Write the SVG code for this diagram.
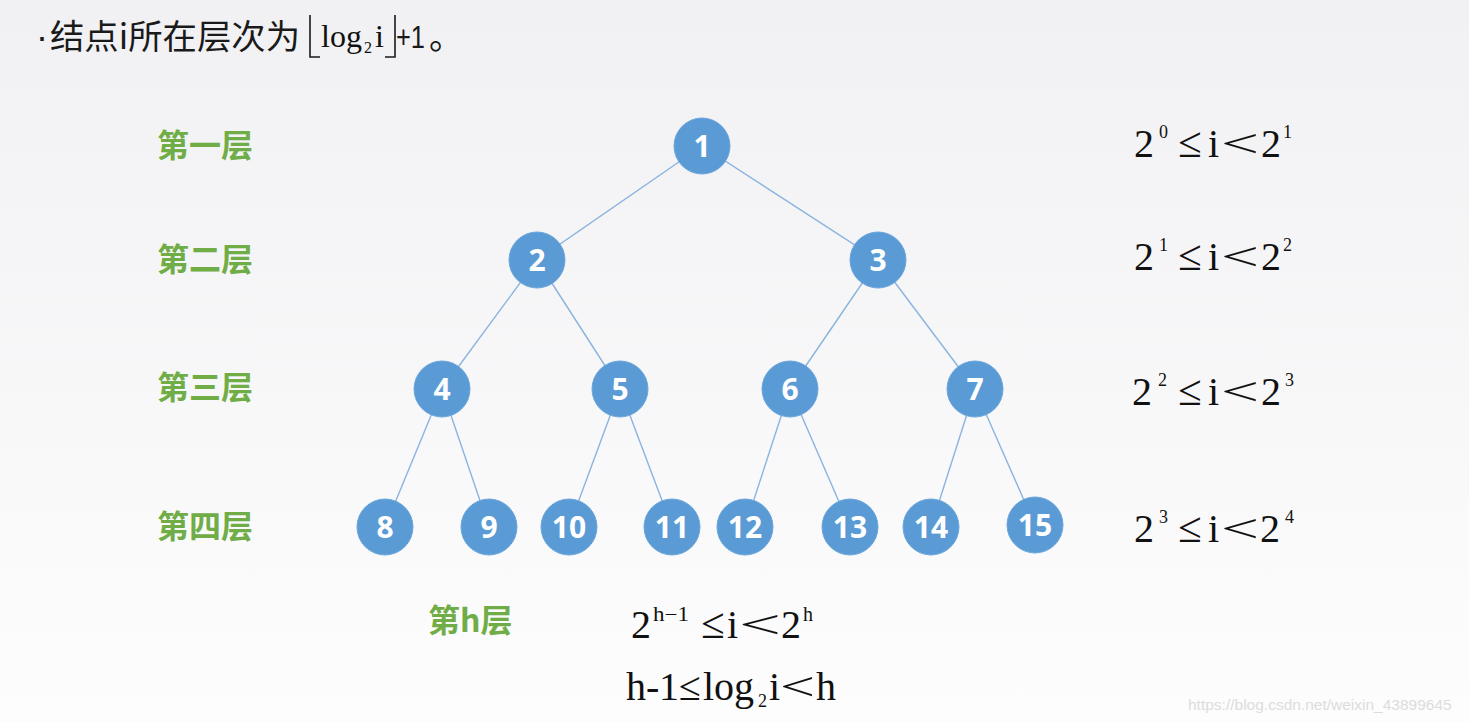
<svg xmlns="http://www.w3.org/2000/svg" width="1469" height="722" viewBox="0 0 1469 722">
<defs>
<linearGradient id="bg" x1="0" y1="0" x2="0" y2="1">
<stop offset="0" stop-color="#f1f1f3"/>
<stop offset="1" stop-color="#fdfdfe"/>
</linearGradient>
<style>
.node circle{fill:#5b9bd5;stroke:#6aa6dc;stroke-width:1}
.node text{fill:#ffffff;font-family:"Open Sans","Noto Sans",sans-serif;font-weight:700;font-size:30px;text-anchor:middle}
.edges line{stroke:#8ab4df;stroke-width:1.4}
.lvl{fill:#70ad47;font-family:"Noto Sans CJK SC",sans-serif;font-weight:700;font-size:32px}
.m{fill:#111;font-family:"Liberation Serif",serif;font-size:40px}
.s{font-size:18px}
.le{font-size:43px}
.t{fill:#1a1a1a;font-family:"Noto Sans CJK SC",sans-serif;font-size:34px}
.br{fill:none;stroke:#1a1a1a;stroke-width:1.6}
</style>
</defs>
<rect x="0" y="0" width="1469" height="722" fill="url(#bg)"/>

<g id="title">
<text x="36" y="49" fill="#1a1a1a" font-family="Liberation Sans, Arial, sans-serif" font-size="36">·</text>
<text class="t" x="50" y="49" textLength="250" lengthAdjust="spacingAndGlyphs">结点i所在层次为</text>
<polyline class="br" points="310,15 310,57 320,57"/>
<text class="m" x="321" y="47" style="font-size:32px">log</text>
<text class="m s" x="364" y="53" style="font-size:16px">2</text>
<text class="m" x="375" y="47" style="font-size:32px">i</text>
<polyline class="br" points="385,57 395,57 395,15"/>
<text x="396" y="48" fill="#1a1a1a" font-family="Liberation Sans, Arial, sans-serif" font-size="32" textLength="29" lengthAdjust="spacingAndGlyphs">+1</text>
<text class="t" x="429" y="49">。</text>
</g>

<g class="edges" id="connectors">
<line x1="702" y1="146" x2="537" y2="260"/>
<line x1="702" y1="146" x2="878" y2="260"/>
<line x1="537" y1="260" x2="442" y2="389"/>
<line x1="537" y1="260" x2="620" y2="389"/>
<line x1="878" y1="260" x2="790" y2="389"/>
<line x1="878" y1="260" x2="975" y2="389"/>
<line x1="442" y1="389" x2="385" y2="527"/>
<line x1="442" y1="389" x2="489" y2="527"/>
<line x1="620" y1="389" x2="569" y2="527"/>
<line x1="620" y1="389" x2="672" y2="527"/>
<line x1="790" y1="389" x2="745" y2="527"/>
<line x1="790" y1="389" x2="850" y2="527"/>
<line x1="975" y1="389" x2="931" y2="527"/>
<line x1="975" y1="389" x2="1035" y2="525"/>
</g>

<g id="n1" class="node"><circle cx="702" cy="146" r="28"/><text x="702" y="157">1</text></g>
<g id="n2" class="node"><circle cx="537" cy="260" r="28"/><text x="537" y="271">2</text></g>
<g id="n3" class="node"><circle cx="878" cy="260" r="28"/><text x="878" y="271">3</text></g>
<g id="n4" class="node"><circle cx="442" cy="389" r="28"/><text x="442" y="400">4</text></g>
<g id="n5" class="node"><circle cx="620" cy="389" r="28"/><text x="620" y="400">5</text></g>
<g id="n6" class="node"><circle cx="790" cy="389" r="28"/><text x="790" y="400">6</text></g>
<g id="n7" class="node"><circle cx="975" cy="389" r="28"/><text x="975" y="400">7</text></g>
<g id="n8" class="node"><circle cx="385" cy="527" r="28"/><text x="385" y="538">8</text></g>
<g id="n9" class="node"><circle cx="489" cy="527" r="28"/><text x="489" y="538">9</text></g>
<g id="n10" class="node"><circle cx="569" cy="527" r="28"/><text x="569" y="538">10</text></g>
<g id="n11" class="node"><circle cx="672" cy="527" r="28"/><text x="672" y="538">11</text></g>
<g id="n12" class="node"><circle cx="745" cy="527" r="28"/><text x="745" y="538">12</text></g>
<g id="n13" class="node"><circle cx="850" cy="527" r="28"/><text x="850" y="538">13</text></g>
<g id="n14" class="node"><circle cx="931" cy="527" r="28"/><text x="931" y="538">14</text></g>
<g id="n15" class="node"><circle cx="1035" cy="525" r="28"/><text x="1035" y="536">15</text></g>

<g id="levels">
<text class="lvl" x="157" y="157">第一层</text>
<text class="lvl" x="157" y="271">第二层</text>
<text class="lvl" x="157" y="399">第三层</text>
<text class="lvl" x="157" y="538">第四层</text>
<text class="lvl" x="428" y="632">第h层</text>
</g>

<g id="ranges">
<text class="m"><tspan x="1134" y="157">2</tspan><tspan class="s" x="1159" y="138">0</tspan><tspan class="le" x="1178" y="157">≤</tspan><tspan x="1208" y="157">i</tspan><tspan x="1261" y="157">2</tspan><tspan class="s" x="1283" y="138">1</tspan></text>
<text class="m" x="1221" y="157" textLength="38" lengthAdjust="spacingAndGlyphs">&lt;</text>

<text class="m"><tspan x="1134" y="270">2</tspan><tspan class="s" x="1159" y="251">1</tspan><tspan class="le" x="1178" y="270">≤</tspan><tspan x="1208" y="270">i</tspan><tspan x="1261" y="270">2</tspan><tspan class="s" x="1283" y="251">2</tspan></text>
<text class="m" x="1221" y="270" textLength="38" lengthAdjust="spacingAndGlyphs">&lt;</text>

<text class="m"><tspan x="1132" y="405">2</tspan><tspan class="s" x="1158" y="386">2</tspan><tspan class="le" x="1178" y="405">≤</tspan><tspan x="1208" y="405">i</tspan><tspan x="1261" y="405">2</tspan><tspan class="s" x="1285" y="386">3</tspan></text>
<text class="m" x="1221" y="405" textLength="38" lengthAdjust="spacingAndGlyphs">&lt;</text>

<text class="m"><tspan x="1134" y="542">2</tspan><tspan class="s" x="1159" y="523">3</tspan><tspan class="le" x="1178" y="542">≤</tspan><tspan x="1208" y="542">i</tspan><tspan x="1260" y="542">2</tspan><tspan class="s" x="1285" y="523">4</tspan></text>
<text class="m" x="1221" y="542" textLength="38" lengthAdjust="spacingAndGlyphs">&lt;</text>
</g>

<g id="general">
<text class="m"><tspan x="631" y="638">2</tspan><tspan class="s" x="653" y="621" style="font-size:20px" textLength="36" lengthAdjust="spacingAndGlyphs">h−1</tspan><tspan class="le" x="701" y="638">≤</tspan><tspan x="727" y="638">i</tspan><tspan x="781" y="638">2</tspan><tspan class="s" x="803" y="621" style="font-size:20px">h</tspan></text>
<text class="m" x="739" y="638" textLength="42" lengthAdjust="spacingAndGlyphs">&lt;</text>

<text class="m"><tspan x="626" y="700">h</tspan><tspan x="646" y="700">-</tspan><tspan x="659" y="700">1</tspan><tspan x="679" y="700">≤</tspan><tspan x="703" y="700">log</tspan><tspan class="s" x="758" y="707">2</tspan><tspan x="769" y="700">i</tspan><tspan x="816" y="700">h</tspan></text>
<text class="m" x="780" y="700" textLength="35" lengthAdjust="spacingAndGlyphs">&lt;</text>
</g>

<text x="1188" y="710" fill="#dcdcdc" font-family="Liberation Sans, Arial, sans-serif" font-size="15.5">https://blog.csdn.net/weixin_43899645</text>
</svg>
